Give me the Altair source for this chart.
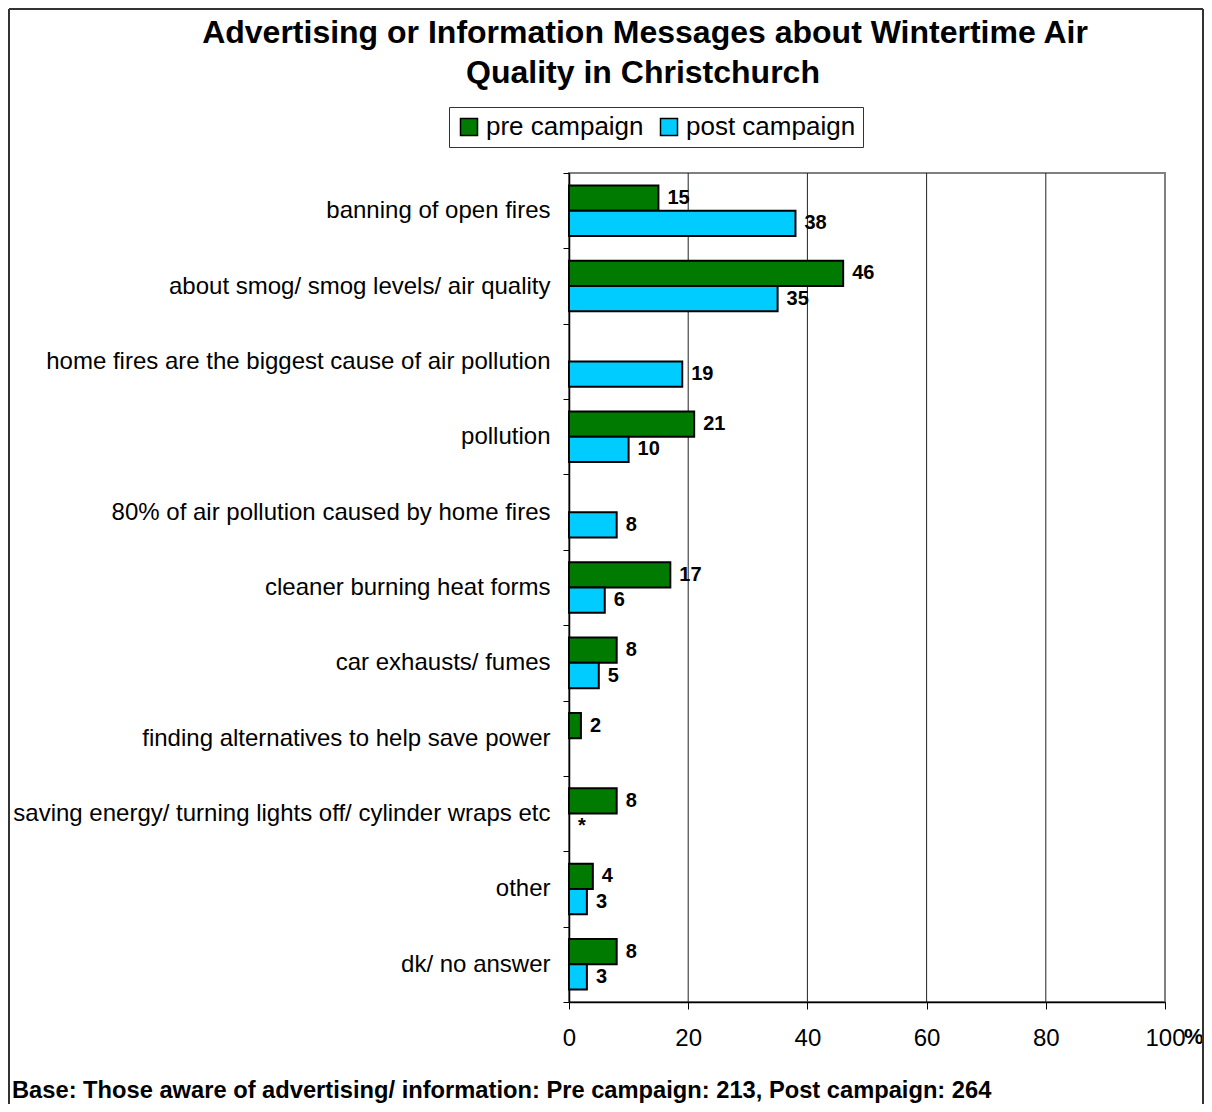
import altair as alt
import pandas as pd

categories = [
    "banning of open fires",
    "about smog/ smog levels/ air quality",
    "home fires are the biggest cause of air pollution",
    "pollution",
    "80% of air pollution caused by home fires",
    "cleaner burning heat forms",
    "car exhausts/ fumes",
    "finding alternatives to help save power",
    "saving energy/ turning lights off/ cylinder wraps etc",
    "other",
    "dk/ no answer",
]
series = ["pre campaign", "post campaign"]
pre_values = [15, 46, None, 21, None, 17, 8, 2, 8, 4, 8]
post_values = [38, 35, 19, 10, 8, 6, 5, None, 0, 3, 3]
post_labels = ["38", "35", "19", "10", "8", "6", "5", None, "*", "3", "3"]
x_ticks = [0, 20, 40, 60, 80, 100]
grid_values = [20, 40, 60, 80]
title_lines = ["Advertising or Information Messages about Wintertime Air",
               "Quality in Christchurch"]
footnote = "Base:  Those aware of advertising/ information: Pre campaign: 213,  Post campaign: 264"

rows = []
for c, v in zip(categories, pre_values):
    if v is not None:
        rows.append({"category": c, "series": series[0], "value": v, "label": str(v)})
for c, v, l in zip(categories, post_values, post_labels):
    if v is not None:
        rows.append({"category": c, "series": series[1], "value": v, "label": l})
df = pd.DataFrame(rows)

FONT = "Liberation Sans"

W, H = 596, 829

xscale = alt.Scale(domain=[0, 100], nice=False, zero=True)
yscale = alt.Scale(domain=categories, paddingInner=0, paddingOuter=0)
yoff = alt.YOffset("series:N", sort=series,
                   scale=alt.Scale(domain=series, paddingInner=0, paddingOuter=0.49))

base = alt.Chart(df)

bars = base.transform_filter("datum.value > 0").mark_bar(
    stroke="black", strokeWidth=2, opacity=1
).encode(
    x=alt.X("value:Q", scale=xscale,
            axis=alt.Axis(values=x_ticks, grid=False, tickSize=7, tickColor="black",
                          domainColor="black", domainWidth=1.5, tickWidth=1,
                          labelFontSize=24, labelFont=FONT, labelColor="black",
                          labelPadding=17, labelFlush=False, title=None)),
    y=alt.Y("category:N", sort=categories, scale=yscale,
            axis=alt.Axis(title=None, tickBand="extent", tickSize=6, tickColor="black",
                          domainColor="black", domainWidth=1.5, labelFontSize=24,
                          labelFont=FONT, labelColor="black", labelPadding=13,
                          labelLimit=1000)),
    yOffset=yoff,
    color=alt.Color("series:N", sort=series,
                    scale=alt.Scale(domain=series, range=["#007A00", "#00CCFF"]),
                    legend=alt.Legend(title=None, orient="none", legendX=-120, legendY=-66,
                                      direction="horizontal", columns=2,
                                      strokeColor="#333333", padding=7,
                                      symbolType="square", symbolSize=289,
                                      symbolStrokeColor="black", symbolStrokeWidth=1.5,
                                      symbolOpacity=1, labelFontSize=26, labelFont=FONT,
                                      labelColor="black", labelOffset=4,
                                      columnPadding=12, labelLimit=400)),
)

labels = base.mark_text(
    align="left", baseline="middle", dx=9, fontSize=20, fontWeight="bold",
    font=FONT, color="black"
).encode(
    x=alt.X("value:Q", scale=xscale),
    y=alt.Y("category:N", sort=categories, scale=yscale),
    yOffset=yoff,
    text="label:N",
)

grid = alt.Chart(pd.DataFrame({"g": grid_values})).mark_rule(
    color="#222222", strokeWidth=1
).encode(x=alt.X("g:Q", scale=xscale))

one = pd.DataFrame({"a": [0]})
title1 = alt.Chart(one).mark_text(
    text=title_lines[0], font=FONT, fontSize=32, fontWeight="bold",
    align="center", baseline="alphabetic", color="black"
).encode(x=alt.value(76), y=alt.value(-130))
title2 = alt.Chart(one).mark_text(
    text=title_lines[1], font=FONT, fontSize=32, fontWeight="bold",
    align="center", baseline="alphabetic", color="black"
).encode(x=alt.value(74), y=alt.value(-90))
pct = alt.Chart(one).mark_text(
    text="%", font=FONT, fontSize=22, fontWeight="bold",
    align="left", baseline="middle", color="black"
).encode(x=alt.value(615), y=alt.value(864))
foot = alt.Chart(one).mark_text(
    text=footnote, font=FONT, fontSize=23.7, fontWeight="bold",
    align="left", baseline="alphabetic", color="black"
).encode(x=alt.value(-557), y=alt.value(925))

border_left = alt.Chart(one).mark_rule(color="#333333", strokeWidth=2).encode(
    x=alt.value(-560), y=alt.value(-164), y2=alt.value(935))
border_top = alt.Chart(one).mark_rule(color="#333333", strokeWidth=2).encode(
    x=alt.value(-560), x2=alt.value(634), y=alt.value(-164))
border_right = alt.Chart(one).mark_rule(color="#333333", strokeWidth=2).encode(
    x=alt.value(634), y=alt.value(-164), y2=alt.value(935))

chart = alt.layer(
    grid, bars, labels, title1, title2, pct, foot,
    border_left, border_top, border_right
).resolve_scale(x="shared", y="shared").properties(
    width=W, height=H,
    autosize=alt.AutoSizeParams(type="none"),
    padding={"left": 561, "top": 165, "right": 39, "bottom": 102},
    background="white",
).configure_view(
    stroke="#808080", strokeWidth=2
)

chart.save("out.html", embed_options={"renderer": "svg", "actions": False})
